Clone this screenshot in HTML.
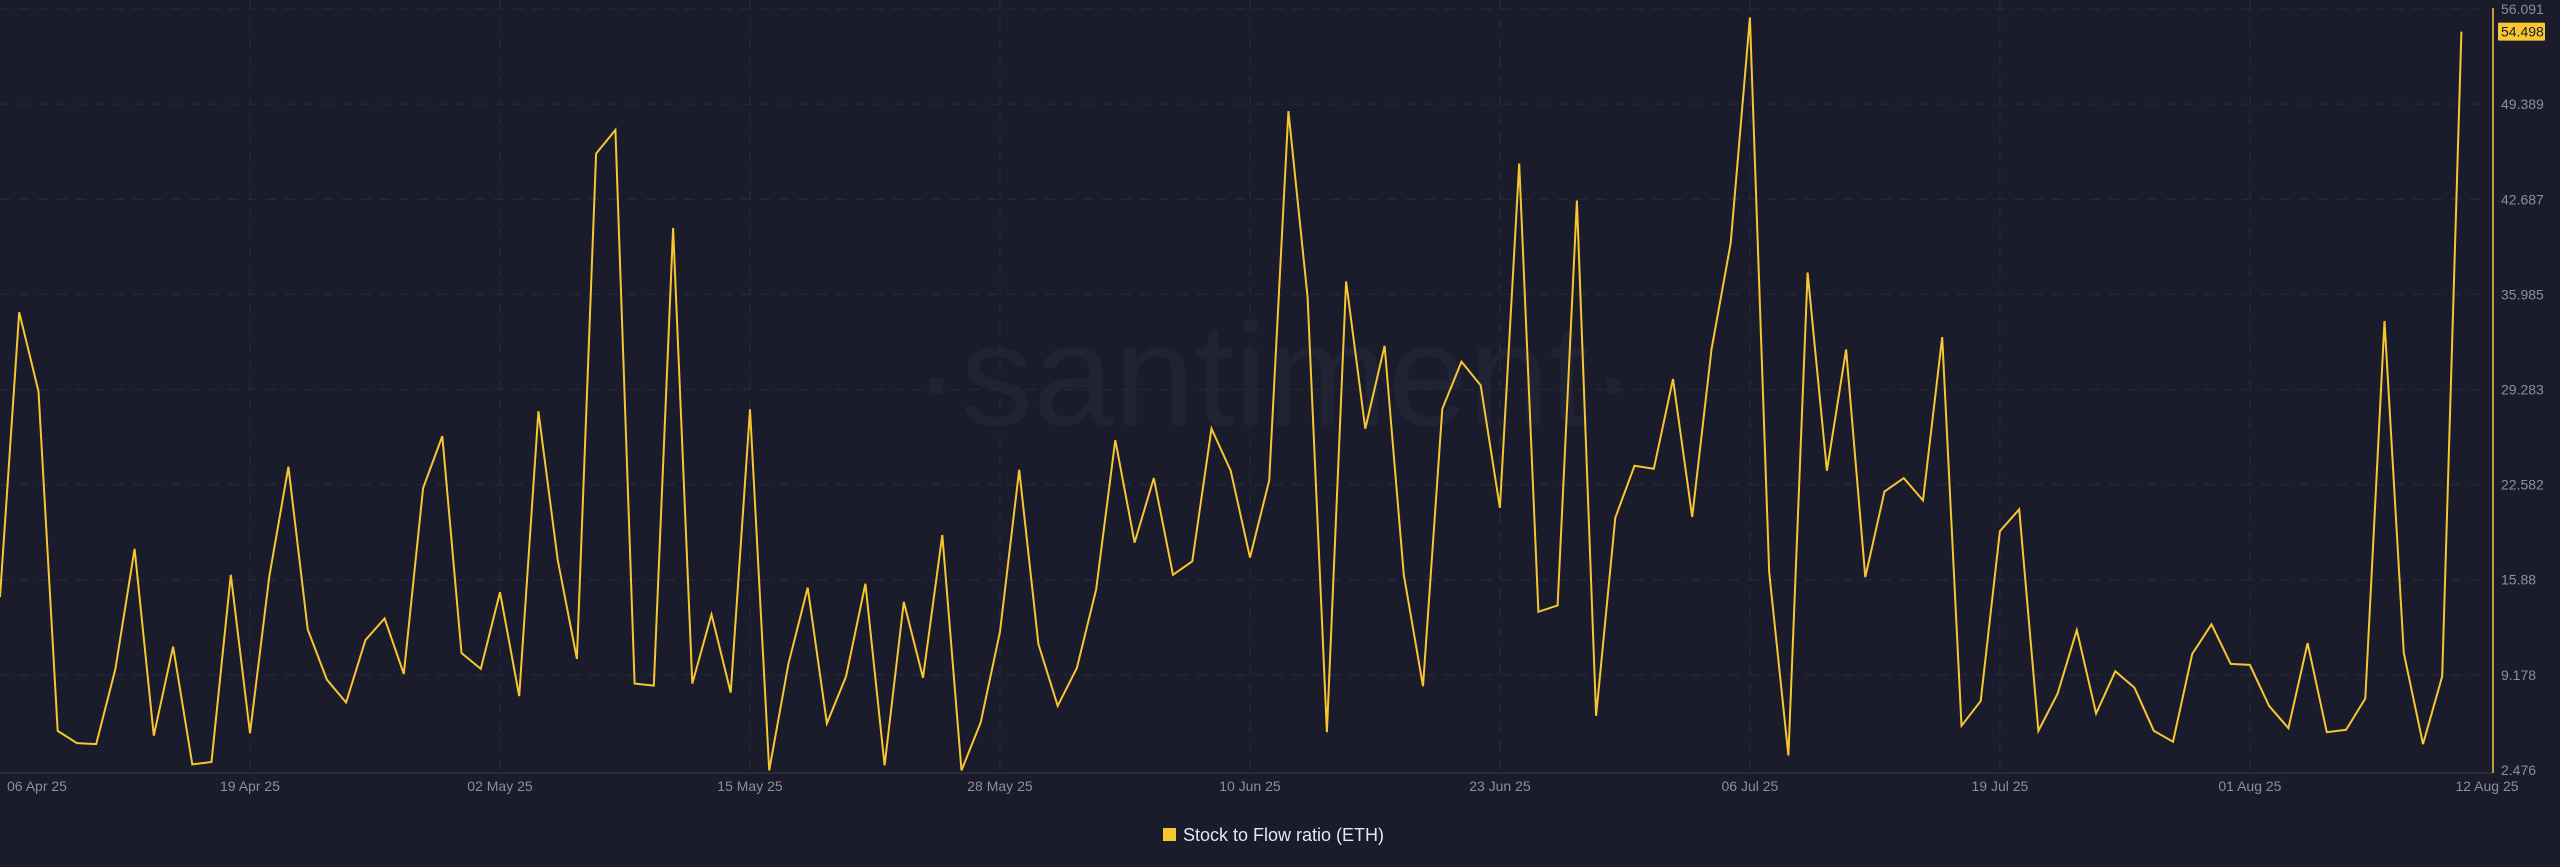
<!DOCTYPE html>
<html><head><meta charset="utf-8"><style>
html,body{margin:0;padding:0;background:#1a1b2b;}
svg{display:block;font-family:"Liberation Sans",sans-serif;}
</style></head><body>
<svg id="chart" width="2560" height="867" viewBox="0 0 2560 867">
<rect x="0" y="0" width="2560" height="867" fill="#1a1b2b"/>
<text x="1275" y="425" text-anchor="middle" font-size="145" fill="#1f2334">·santiment·</text>
<g id="grid"></g>
<g id="series"></g>
<g id="axes"></g>
<g>
<rect x="1163" y="828" width="13" height="13" fill="#f7c631"/>
<text x="1183" y="841" font-size="18" fill="#e6e8ee">Stock to Flow ratio (ETH)</text>
</g>
</svg>
<script>
const values = [14.66,34.73,29.15,5.23,4.37,4.30,9.6,18.05,4.89,11.17,2.87,3.04,16.23,5.07,16.06,23.84,12.39,8.84,7.23,11.63,13.16,9.25,22.34,26.0,10.72,9.6,15.0,7.68,27.75,17.28,10.3,45.9,47.57,8.56,8.42,40.67,8.56,13.44,7.93,27.89,2.45,9.95,15.33,5.76,9.08,15.6,2.8,14.32,8.97,19.03,2.45,5.83,12.22,23.63,11.35,6.99,9.67,15.18,25.72,18.5,23.04,16.23,17.18,26.53,23.56,17.45,22.87,48.9,35.78,5.14,36.9,26.53,32.36,16.23,8.38,27.92,31.24,29.57,20.95,45.2,13.62,14.07,42.6,6.29,20.25,23.91,23.70,30.02,20.3,32.11,39.6,55.5,16.4,3.5,37.53,23.56,32.1,16.06,22.1,23.04,21.47,32.98,5.59,7.34,19.3,20.84,5.24,7.86,12.33,6.46,9.43,8.27,5.24,4.47,10.65,12.74,9.95,9.88,6.99,5.42,11.42,5.14,5.31,7.51,34.1,10.72,4.30,9.08,54.498];
const yTicks = [56.091,49.389,42.687,35.985,29.283,22.582,15.88,9.178,2.476];
const yTickLabels = ["56.091","49.389","42.687","35.985","29.283","22.582","15.88","9.178","2.476"];
const xTickDays = [0,13,26,39,52,65,78,91,104,117,128];
const xTickLabels = ["06 Apr 25","19 Apr 25","02 May 25","15 May 25","28 May 25","10 Jun 25","23 Jun 25","06 Jul 25","19 Jul 25","01 Aug 25","12 Aug 25"];
const lastLabel = "54.498";

const NS="http://www.w3.org/2000/svg";
const yMax=56.091,yMin=2.476,yTop=9,yBot=770;
function yScale(v){return yTop+(yMax-v)*(yBot-yTop)/(yMax-yMin);}
function xScale(d){return d*19.23;}
function mk(tag,attrs,parent){const e=document.createElementNS(NS,tag);for(const k in attrs)e.setAttribute(k,attrs[k]);parent.appendChild(e);return e;}
const grid=document.getElementById('grid'),axes=document.getElementById('axes'),series=document.getElementById('series');

yTicks.forEach((v,i)=>{
  const y=yScale(v);
  if(i<yTicks.length-1){
    const l=mk('line',{x1:0,x2:2490,y1:y,y2:y,stroke:'#252839','stroke-width':1.5,'stroke-dasharray':'10 9'},grid);
    
    
  }
  const t=mk('text',{x:2501,y:y+5,'font-size':14,fill:'#8a8fa3'},axes);
  t.textContent=yTickLabels[i];
  
  
});
xTickDays.forEach((d,i)=>{
  const x=xScale(d);
  if(i>0&&i<xTickDays.length-1){
    const l=mk('line',{x1:x,x2:x,y1:0,y2:773,stroke:'#252839','stroke-width':1.5,'stroke-dasharray':'10 9'},grid);
    
    
  }
  let anchor='middle',tx=x;
  if(i===0){anchor='start';tx=7;}
  if(i===xTickDays.length-1){tx=2487;}
  const t=mk('text',{x:tx,y:791,'font-size':14,fill:'#8a8fa3','text-anchor':anchor},axes);
  t.textContent=xTickLabels[i];
  
  
});
const xa=mk('line',{x1:0,x2:2493,y1:773,y2:773,stroke:'#2c2f45','stroke-width':1.5},axes);


const ya=mk('line',{x1:2493,x2:2493,y1:8,y2:773,stroke:'#f7c631','stroke-width':1.5},axes);



const pts=values.map((v,i)=>xScale(i).toFixed(1)+','+yScale(v).toFixed(1)).join(' ');
const pl=mk('polyline',{points:pts,fill:'none',stroke:'#f7c631','stroke-width':2,'stroke-linejoin':'miter'},series);



const lv=values[values.length-1],ly=yScale(lv);
const badge=mk('rect',{x:2498,y:ly-9,width:47,height:18,fill:'#f7c631',rx:1},axes);


const bt=mk('text',{x:2501,y:ly+5,'font-size':14,fill:'#1a1b2b'},axes);
bt.textContent=lastLabel;


</script>
</body></html>
